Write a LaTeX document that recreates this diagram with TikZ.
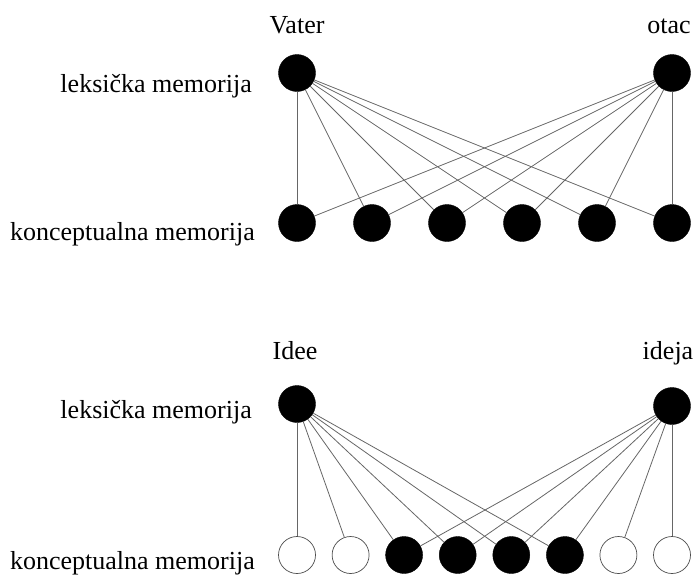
\documentclass[tikz,border=0pt]{standalone}
\usepackage{fontspec}
\setmainfont{Liberation Serif}
\begin{document}
\begin{tikzpicture}[x=1pt,y=-1pt,
  full/.style={circle,fill=black,draw=black,minimum size=37pt,inner sep=0pt},
  empty/.style={circle,fill=white,draw=black!70,line width=0.7pt,minimum size=37pt,inner sep=0pt},
  link/.style={draw=black!60,line width=0.8pt},
  lbl/.style={font=\fontsize{26}{30}\selectfont,inner sep=0pt},
]
\useasboundingbox (0,0) rectangle (693,574);
% labels
\node[lbl,anchor=base] (tV) at (297,33) {Vater};
\node[lbl,anchor=base] (tO) at (669,33) {otac};
\node[lbl,anchor=base east] (lk1) at (252,92) {leksička memorija};
\node[lbl,anchor=base east] (kc1) at (255,240) {konceptualna memorija};
\node[lbl,anchor=base] (tI) at (295,359) {Idee};
\node[lbl,anchor=base] (tJ) at (668,359) {ideja};
\node[lbl,anchor=base east] (lk2) at (252,418) {leksička memorija};
\node[lbl,anchor=base east] (kc2) at (255,569) {konceptualna memorija};
% top diagram
\node[full] (V) at (297,73) {};
\node[full] (O) at (672,73) {};
\foreach \i/\x in {1/297,2/372,3/447,4/522,5/597,6/672}{
  \node[full] (c\i) at (\x,223) {};
}
\foreach \i in {1,...,6}{
  \draw[link] (V) -- (c\i);
  \draw[link] (O) -- (c\i);
}
% bottom diagram
\node[full] (I) at (297,404) {};
\node[full] (J) at (672,406) {};
\foreach \i/\x/\s in {1/297/empty,2/350.6/empty,3/404.1/full,4/457.7/full,5/511.3/full,6/564.9/full,7/618.4/empty,8/672/empty}{
  \node[\s] (d\i) at (\x,555) {};
}
\foreach \i in {1,...,6}{
  \draw[link] (I) -- (d\i);
}
\foreach \i in {3,...,8}{
  \draw[link] (J) -- (d\i);
}
\end{tikzpicture}
\end{document}
